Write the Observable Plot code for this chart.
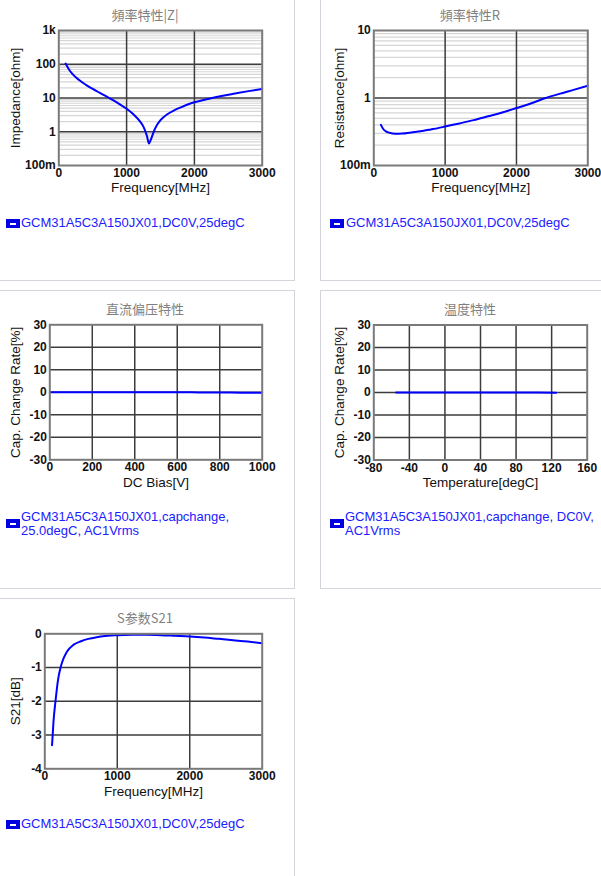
<!DOCTYPE html>
<html><head><meta charset="utf-8">
<script src="https://cdn.jsdelivr.net/npm/d3@7"></script>
<script src="https://cdn.jsdelivr.net/npm/@observablehq/plot@0.6"></script>
<style>
body{margin:0;background:#fff;width:601px;height:876px;overflow:hidden;position:relative;font-family:"Liberation Sans",Arial,sans-serif;}
.box{position:absolute;border:1px solid #d4d4dc;box-sizing:border-box;}
.title{position:absolute;font-family:"Noto Sans CJK SC",sans-serif;font-size:13px;color:#7f7f7f;transform:translate(-50%,-50%);white-space:nowrap;}
.chart{position:absolute;}
.legend{position:absolute;font-size:13px;color:#2020ff;line-height:14px;white-space:nowrap;}
.icon{position:absolute;width:14px;height:9px;background:#0000e0;}
.icon::after{content:"";position:absolute;left:4px;top:4px;width:6px;height:1.5px;background:#fff;}
</style></head>
<body>
<div class="box" style="left:-1px;top:-1px;width:296px;height:282px"></div>
<div class="box" style="left:320px;top:-1px;width:300px;height:282px"></div>
<div class="box" style="left:-1px;top:290px;width:296px;height:299px"></div>
<div class="box" style="left:320px;top:290px;width:300px;height:299px"></div>
<div class="box" style="left:-1px;top:598px;width:296px;height:300px"></div>
<div id="root"></div>
<script>
// ---- data ----
const zFreq = [100,150,200,300,400,500,600,700,800,900,1000,1100,1200,1250,1300,1330,1360,1400,1450,1500,1600,1700,1800,1900,2000,2200,2400,2600,2800,3000];
const zVal  = [105,70,52,34,24.5,18.5,14.5,11.2,8.6,6.5,4.8,3.3,2.0,1.4,0.75,0.45,0.6,1.0,1.6,2.2,3.3,4.3,5.3,6.4,7.5,9.4,11.5,13.6,16,18.5];
const rFreq = [100,130,170,220,300,400,500,600,700,800,900,1000,1200,1400,1600,1800,2000,2200,2400,2600,2800,3000];
const rVal  = [0.40,0.35,0.32,0.305,0.295,0.297,0.305,0.315,0.327,0.342,0.358,0.378,0.42,0.47,0.535,0.61,0.71,0.83,0.99,1.15,1.32,1.52];
const dcBias = [0,100,200,300,400,500,600,700,800,900,1000];
const dcRate = [0,0,0,0,0,0,0,-0.05,-0.1,-0.15,-0.2];
const tempC = [-55,-25,0,25,55,85,125];
const tempRate = [0.05,0.03,0.01,0,-0.02,-0.04,-0.06];
const sFreq = [100,120,150,180,220,260,300,400,500,600,700,800,1000,1200,1400,1600,1800,2000,2200,2400,2600,2800,3000];
const sVal  = [-3.3,-2.6,-1.95,-1.4,-0.98,-0.72,-0.55,-0.32,-0.22,-0.15,-0.11,-0.07,-0.04,-0.03,-0.03,-0.04,-0.06,-0.08,-0.11,-0.15,-0.19,-0.23,-0.28];
const freqTicks = [0,1000,2000,3000];
const capTicks = [-30,-20,-10,0,10,20,30];
const dcTicks = [0,200,400,600,800,1000];
const tempTicks = [-80,-40,0,40,80,120,160];
const s21Ticks = [-4,-3,-2,-1,0];
const legendModel = "GCM31A5C3A150JX01";

// ---- helpers ----
const logFmt = d => d >= 1000 ? (d/1000)+"k" : d < 1 ? Math.round(d*1000)+"m" : String(d);
function minorLog(lo, hi){const out=[];for(let dec=lo;dec<hi;dec*=10){for(let k=2;k<=9;k++)out.push(+(k*dec).toPrecision(3));}return out;}
const root = document.getElementById("root");

function chart(o){
  const data = o.xs.map((x,i)=>({x, y:o.ys[i]}));
  const marks = [];
  if (o.yMinor) marks.push(Plot.gridY(o.yMinor,{stroke:"#d6d6d6",strokeOpacity:1,strokeWidth:1.2}));
  marks.push(Plot.gridY(o.yMajor,{stroke:"#3c3c3c",strokeOpacity:1,strokeWidth:1.5}));
  marks.push(Plot.gridX(o.xMajor,{stroke:"#3c3c3c",strokeOpacity:1,strokeWidth:1.5}));
  marks.push(Plot.line(data,{x:"x",y:"y",stroke:"#0000ff",strokeWidth:2,curve:"monotone-x"}));
  marks.push(Plot.frame({stroke:"#7a7a7a",strokeWidth:2}));
  marks.push(Plot.axisX(o.xTicks,{tickSize:0,tickPadding:3,fontSize:12,fontWeight:"bold",fill:"#111",label:null,tickFormat:d=>String(d)}));
  marks.push(Plot.axisY(o.yTicks,{tickSize:0,tickPadding:3,fontSize:12,fontWeight:"bold",fill:"#111",label:null,tickFormat:o.yFmt||(d=>String(d))}));
  marks.push(Plot.text([o.xLabel],{frameAnchor:"bottom",lineAnchor:"middle",textAnchor:"middle",dy:22.5,fontSize:13.5,fill:"#111"}));
  marks.push(Plot.text([o.yLabel],{frameAnchor:"left",lineAnchor:"middle",textAnchor:"middle",dx:o.ydx,rotate:-90,fontSize:13.5,fill:"#111"}));
  const svg = Plot.plot({
    width:o.w, height:200,
    marginLeft:o.ml, marginRight:o.mr, marginTop:o.mt, marginBottom:200-o.mt-o.ph,
    x:{type:"linear",domain:o.xDomain},
    y:{type:o.yType||"linear",domain:o.yDomain},
    style:{fontFamily:'"Liberation Sans",Arial,sans-serif',background:"transparent",overflow:"visible"},
    marks
  });
  const div = document.createElement("div");
  div.className="chart"; div.style.left=o.left+"px"; div.style.top=o.top+"px";
  div.appendChild(svg); root.appendChild(div);
}
function title(t,x,y){const d=document.createElement("div");d.className="title";d.textContent=t;d.style.left=x+"px";d.style.top=y+"px";root.appendChild(d);}
function legend(lines,ix,iy,tx,ty){
  const i=document.createElement("div");i.className="icon";i.style.left=ix+"px";i.style.top=iy+"px";root.appendChild(i);
  const t=document.createElement("div");t.className="legend";t.style.left=tx+"px";t.style.top=ty+"px";
  lines.forEach((l,k)=>{if(k)t.appendChild(document.createElement("br"));t.appendChild(document.createTextNode(l));});
  root.appendChild(t);
}

// Panel 1 |Z|
title("頻率特性|Z|",145,14);
chart({left:0,top:0,w:294,ml:58.3,mr:32.3,mt:30,ph:135,xs:zFreq,ys:zVal,xDomain:[0,3000],xTicks:freqTicks,xMajor:[1000,2000],
  yType:"log",yDomain:[0.1,1000],yTicks:[0.1,1,10,100,1000],yMajor:[1,10,100],yMinor:minorLog(0.1,1000),yFmt:logFmt,
  xLabel:"Frequency[MHz]",yLabel:"Impedance[ohm]",ydx:-43});
legend([legendModel+",DC0V,25degC"],6,219,21,216);

// Panel 2 R
title("頻率特性R",470,14);
chart({left:320,top:0,w:281,ml:53.3,mr:13.7,mt:30,ph:135,xs:rFreq,ys:rVal,xDomain:[0,3000],xTicks:freqTicks,xMajor:[1000,2000],
  yType:"log",yDomain:[0.1,10],yTicks:[0.1,1,10],yMajor:[1],yMinor:minorLog(0.1,10),yFmt:logFmt,
  xLabel:"Frequency[MHz]",yLabel:"Resistance[ohm]",ydx:-34.3});
legend([legendModel+",DC0V,25degC"],330,219,346,216);

// Panel 3 DC bias
title("直流偏压特性",145,308);
chart({left:0,top:290,w:294,ml:49.3,mr:32.3,mt:34.3,ph:135,xs:dcBias,ys:dcRate,xDomain:[0,1000],xTicks:dcTicks,xMajor:[200,400,600,800],
  yDomain:[-30,30],yTicks:capTicks,yMajor:[-20,-10,0,10,20],
  xLabel:"DC Bias[V]",yLabel:"Cap. Change Rate[%]",ydx:-34.3});
legend([legendModel+",capchange,","25.0degC, AC1Vrms"],6,519,21,510);

// Panel 4 Temperature
title("温度特性",470,308);
chart({left:320,top:290,w:281,ml:53.3,mr:14.3,mt:34.5,ph:135,xs:tempC,ys:tempRate,xDomain:[-80,160],xTicks:tempTicks,xMajor:[-40,0,40,80,120],
  yDomain:[-30,30],yTicks:capTicks,yMajor:[-20,-10,0,10,20],
  xLabel:"Temperature[degC]",yLabel:"Cap. Change Rate[%]",ydx:-34.3});
legend([legendModel+",capchange, DC0V,","AC1Vrms"],330,519,345,510);

// Panel 5 S21
title("S参数S21",145,617);
chart({left:0,top:600,w:294,ml:44.3,mr:32.3,mt:33.3,ph:135,xs:sFreq,ys:sVal,xDomain:[0,3000],xTicks:freqTicks,xMajor:[1000,2000],
  yDomain:[-4,0],yTicks:s21Ticks,yMajor:[-3,-2,-1],
  xLabel:"Frequency[MHz]",yLabel:"S21[dB]",ydx:-29.3});
legend([legendModel+",DC0V,25degC"],6,820,21,817);
</script>
</body></html>
